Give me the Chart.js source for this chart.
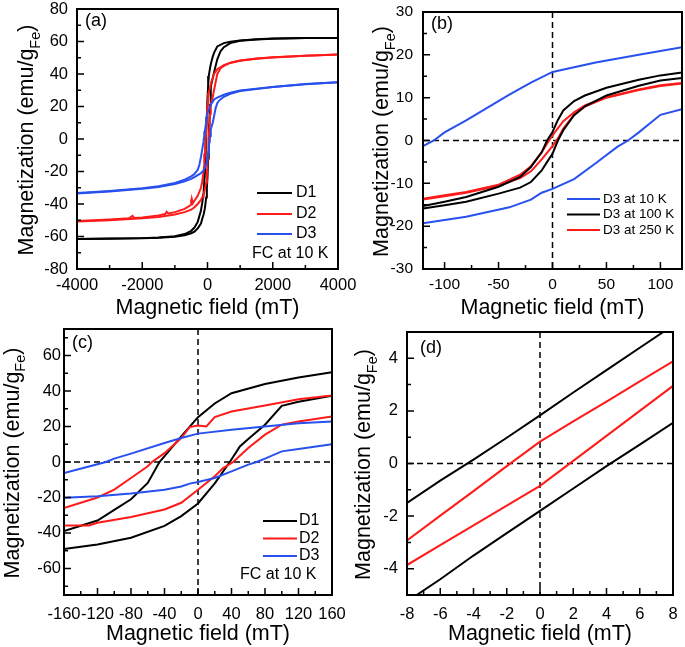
<!DOCTYPE html>
<html>
<head>
<meta charset="utf-8">
<script src="https://cdn.jsdelivr.net/npm/chart.js@4.4.0/dist/chart.umd.min.js"></script>
<style>
  html, body { margin: 0; background: #fff; }
  #wrap { position: relative; width: 685px; height: 647px; }
  #wrap canvas { position: absolute; left: 0; top: 0; }
</style>
</head>
<body>
<div id="wrap">
  <canvas id="chartA" width="685" height="647"></canvas>
  <canvas id="chartB" width="685" height="647"></canvas>
  <canvas id="chartC" width="685" height="647"></canvas>
  <canvas id="chartD" width="685" height="647"></canvas>
</div>
<script>
// ── hysteresis loops at 10 K, [field mT, magnetization emu/gFe] ──
// *_DOWN = field sweeping from +max to -max, *_UP = back again
const D1_DOWN = [[4000,62.2],[3000,62.1],[2000,61.8],[1500,61.4],[1000,60.6],[700,59.8],[500,59],[300,57],
  [200,53],[160,50.6],[120,47.6],[80,44],[40,38.8],[20,33],[0,25.3],[-20,14.4],[-46,0],[-60,-11.8],
  [-80,-21],[-100,-27],[-120,-33],[-160,-39],[-200,-44],[-300,-51],[-400,-54.5],[-500,-56.5],
  [-700,-58.5],[-1000,-59.8],[-1500,-60.6],[-2000,-61],[-3000,-61.3],[-4000,-61.5]];
const D1_UP = [[-4000,-61.5],[-3000,-61.4],[-2000,-61.1],[-1500,-60.8],[-1000,-60.2],[-700,-59.2],
  [-500,-58],[-400,-57],[-300,-55],[-200,-52],[-160,-49],[-120,-46.5],[-80,-42.7],[-40,-36],
  [-20,-30.5],[0,-23.4],[20,-12],[38,0],[50,8.8],[60,13],[80,21],[100,31.7],[120,34],[160,37.3],
  [200,41],[300,49],[400,54],[500,56.5],[700,59],[1000,60.4],[1500,61.3],[2000,61.7],[3000,62.1],[4000,62.2]];

const D2_DOWN = [[4000,52],[3000,51.3],[2000,50.3],[1500,49.5],[1000,48.3],[700,47],[500,45.5],[300,43],
  [200,40],[160,37.5],[120,35.4],[80,31.9],[40,28.5],[20,25.3],[10,20],[0,20.6],[-10,19.7],[-20,13.5],
  [-40,5],[-55,0],[-60,-2.4],[-80,-9],[-100,-15.6],[-120,-20],[-160,-26],[-200,-30],[-300,-35],
  [-400,-38],[-450,-39.5],[-480,-37],[-500,-40.5],[-700,-43],[-1000,-45],[-1200,-45.8],[-1250,-44.8],
  [-1300,-46.2],[-1500,-47],[-2000,-48.3],[-2250,-48.6],[-2300,-47.3],[-2400,-48.8],[-3000,-49.6],[-4000,-50.5]];
const D2_UP = [[-4000,-50.8],[-3000,-50],[-2000,-48.8],[-1500,-48],[-1000,-46.5],[-700,-45],[-500,-43.5],
  [-400,-42],[-300,-40],[-200,-37.5],[-160,-35.8],[-130,-35.8],[-120,-34.3],[-80,-31],[-40,-26.8],
  [-20,-23],[0,-15.6],[20,-8],[30,-3.4],[42,0],[60,7.9],[80,15.4],[100,21],[120,22.9],[160,25.7],
  [200,30],[250,35],[300,40],[400,43.5],[500,45],[700,46.8],[1000,48.2],[1500,49.4],[2000,50.2],
  [3000,51.2],[4000,52]];

const D3_DOWN = [[4000,35],[3000,33.8],[2000,32],[1500,31],[1000,29.8],[700,28.5],[500,27.2],[300,25.5],
  [200,24.3],[160,22.9],[120,21.8],[80,20],[40,18.2],[0,16],[-20,13.5],[-40,10.7],[-80,4.7],
  [-100,1.9],[-110,0],[-120,-1.3],[-160,-6.2],[-200,-11],[-250,-16],[-300,-19],[-400,-21.5],
  [-500,-23],[-700,-25],[-1000,-27],[-1500,-29],[-2000,-30.3],[-3000,-32],[-4000,-33.3]];
const D3_UP = [[-4000,-33.5],[-3000,-32.3],[-2000,-30.6],[-1500,-29.5],[-1000,-27.7],[-700,-26],
  [-500,-24.5],[-400,-23.5],[-300,-22.2],[-200,-21],[-160,-20.2],[-120,-19.3],[-80,-17.8],
  [-40,-15.6],[-20,-13.8],[-10,-12.2],[0,-11.3],[20,-9],[40,-5.3],[60,-1.5],[70,0],[80,1.9],
  [100,6],[120,7.3],[160,10],[200,14],[250,19],[300,22],[350,23.5],[500,26],[700,27.8],
  [1000,29.5],[1500,30.8],[2000,32],[3000,33.7],[4000,35]];

// ── D3 at higher temperatures (panel b) ──
const D3_100K_DOWN = [[120,15.9],[100,15.2],[80,14.2],[50,12.3],[30,10.5],[20,9.2],[10,7],[5,4.8],[0,2],
  [-5,0],[-10,-2.7],[-20,-6.2],[-30,-8.5],[-50,-10.8],[-80,-13.2],[-100,-14.3],[-120,-15.3]];
const D3_100K_UP = [[-120,-15.9],[-100,-15.1],[-80,-14.3],[-50,-12.4],[-30,-11],[-20,-9.7],[-10,-7],
  [-5,-5],[0,-3.1],[5,0],[10,2.4],[20,5.9],[30,8],[50,10.5],[80,12.8],[100,14],[120,14.6]];
const D3_250K_DOWN = [[120,13.4],[100,12.9],[80,11.9],[50,10.1],[30,8.2],[20,6.6],[10,4.5],[0,1.2],
  [-5,-0.7],[-10,-2.8],[-20,-6],[-30,-8],[-50,-10.3],[-80,-12],[-100,-12.8],[-120,-13.6]];
const D3_250K_UP = [[-120,-13.8],[-100,-13],[-80,-12.2],[-50,-10.6],[-30,-8.8],[-20,-7.2],[-10,-4.4],
  [0,-1.3],[5,0.5],[10,2.8],[20,6],[30,7.9],[50,10],[80,11.8],[100,12.7],[120,13.3]];

// ── low-field detail (panel d) ──
const DD_BLACK_DOWN = [[8,5.25],[6,4.4],[4,3.55],[2,2.7],[0,1.83],[-2,0.98],[-4,0.15],[-6,-0.65],[-8,-1.5]];
const DD_BLACK_UP   = [[-8,-5.25],[-6,-4.4],[-4,-3.5],[-2,-2.65],[0,-1.8],[2,-0.95],[4,-0.1],[6,0.72],[8,1.55]];
const DD_RED_DOWN   = [[8,3.88],[6,3.12],[4,2.35],[2,1.6],[0,0.83],[-2,-0.1],[-4,-1.05],[-6,-1.98],[-8,-2.93]];
const DD_RED_UP     = [[-8,-3.86],[-6,-3.1],[-4,-2.35],[-2,-1.6],[0,-0.85],[2,0.1],[4,1.05],[6,2.0],[8,2.95]];

// ── tick labels ──
const A_XTICKS = [-4000, -2000, 0, 2000, 4000];
const A_YTICKS = [-80, -60, -40, -20, 0, 20, 40, 60, 80];
const B_XTICKS = [-100, -50, 0, 50, 100];
const B_YTICKS = [-30, -20, -10, 0, 10, 20, 30];
const C_XTICKS = [-160, -120, -80, -40, 0, 40, 80, 120, 160];
const C_YTICKS = [-60, -40, -20, 0, 20, 40, 60];
const D_XTICKS = [-8, -6, -4, -2, 0, 2, 4, 6, 8];
const D_YTICKS = [-4, -2, 0, 2, 4];

const LABELS_ABC = ['D1', 'D2', 'D3'];
const LABELS_B   = ['D3 at 10 K', 'D3 at 100 K', 'D3 at 250 K'];

const FONT  = "'Liberation Sans', Arial, Helvetica, sans-serif";
const BLACK = '#000000';
const RED   = '#ff1a1a';
const BLUE  = '#2850ee';

const toXY = pairs => pairs.map(p => ({ x: p[0], y: p[1] }));

function branch(pairs, color) {
    return {
        data: toXY(pairs),
        borderColor: color,
        backgroundColor: color,
        borderWidth: 2,
        pointRadius: 0,
        showLine: true,
        tension: 0,
        fill: false
    };
}

function stepsBetween(min, max, step) {
    const out = [];
    for (let v = Math.ceil(min / step) * step; v <= max + 1e-9; v += step) out.push(v);
    return out;
}

function drawYTitle(ctx, xBase, yCenter) {
    const f1 = '21.5px ' + FONT, f2 = '14.5px ' + FONT;
    ctx.save();
    ctx.font = f1;
    const w1 = ctx.measureText('Magnetization (emu/g').width;
    const w3 = ctx.measureText(')').width;
    ctx.font = f2;
    const w2 = ctx.measureText('Fe').width;
    ctx.translate(xBase, yCenter);
    ctx.rotate(-Math.PI / 2);
    ctx.fillStyle = '#000';
    ctx.textAlign = 'left';
    ctx.textBaseline = 'alphabetic';
    let x = -(w1 + w2 + w3) / 2;
    ctx.font = f1; ctx.fillText('Magnetization (emu/g', x, 0); x += w1;
    ctx.font = f2; ctx.fillText('Fe', x, 6.5); x += w2;
    ctx.font = f1; ctx.fillText(')', x, 0);
    ctx.restore();
}

// frame, inward ticks, dashed zero lines, titles and the in-plot legend
const panelDecor = {
    id: 'panelDecor',
    beforeDatasetsDraw(chart, args, o) {
        if (!o.zero) return;
        const { ctx, chartArea: a, scales: { x, y } } = chart;
        const px = x.getPixelForValue(0), py = y.getPixelForValue(0);
        ctx.save();
        ctx.strokeStyle = '#000';
        ctx.lineWidth = 1.5;
        ctx.setLineDash([6, 4]);
        ctx.beginPath();
        ctx.moveTo(px, a.top); ctx.lineTo(px, a.bottom);
        ctx.moveTo(a.left, py); ctx.lineTo(a.right, py);
        ctx.stroke();
        ctx.restore();
    },
    afterDatasetsDraw(chart, args, o) {
        const { ctx, chartArea: a, scales: { x, y } } = chart;
        ctx.save();
        ctx.strokeStyle = '#000';
        ctx.lineWidth = 1.5;
        ctx.beginPath();
        stepsBetween(x.min, x.max, o.xMinor).forEach(v => {
            const p = x.getPixelForValue(v);
            const len = o.xTicks.includes(v) ? 7 : 4;
            ctx.moveTo(p, a.bottom); ctx.lineTo(p, a.bottom - len);
        });
        stepsBetween(y.min, y.max, o.yMinor).forEach(v => {
            const p = y.getPixelForValue(v);
            const len = o.yTicks.includes(v) ? 7 : 4;
            ctx.moveTo(a.left, p); ctx.lineTo(a.left + len, p);
        });
        ctx.stroke();
        ctx.lineWidth = 2;
        ctx.strokeRect(a.left, a.top, a.right - a.left, a.bottom - a.top);

        // panel letter
        ctx.fillStyle = '#000';
        ctx.textBaseline = 'middle';
        ctx.textAlign = 'left';
        ctx.font = '18px ' + FONT;
        ctx.fillText(o.tag, o.tagPos[0], o.tagPos[1]);

        // legend
        const lg = o.legend;
        ctx.font = lg.size + 'px ' + FONT;
        lg.items.forEach((it, i) => {
            const ly = lg.rows[i];
            ctx.strokeStyle = it.color;
            ctx.lineWidth = 2;
            ctx.beginPath();
            ctx.moveTo(lg.x0, ly); ctx.lineTo(lg.x1, ly);
            ctx.stroke();
            ctx.fillText(it.text, lg.tx, ly);
        });
        if (lg.note) ctx.fillText(lg.note, lg.noteX, lg.noteY);

        // axis titles
        ctx.textAlign = 'center';
        ctx.textBaseline = 'alphabetic';
        ctx.font = '21.5px ' + FONT;
        ctx.fillText('Magnetic field (mT)', (a.left + a.right) / 2, a.bottom + 44.5);
        drawYTitle(ctx, o.yTitleX, (a.top + a.bottom) / 2 + 1);
        ctx.restore();
    }
};

const Y_W = 50, X_H = 40;

function makePanel(p) {
    const el = document.getElementById(p.id);
    const tickFont = { family: FONT, size: p.tickSize };
    new Chart(el, {
        type: 'scatter',
        data: { datasets: p.datasets },
        plugins: [panelDecor],
        options: {
            responsive: false,
            animation: false,
            events: [],
            layout: {
                padding: {
                    left: p.box[0] - Y_W,
                    top: p.box[1],
                    right: 685 - p.box[2],
                    bottom: 647 - p.box[3] - X_H
                }
            },
            plugins: {
                legend: { display: false },
                tooltip: { enabled: false },
                panelDecor: p.decor
            },
            scales: {
                x: {
                    type: 'linear',
                    min: p.xRange[0], max: p.xRange[1],
                    grid: { display: false, drawTicks: false },
                    border: { display: false },
                    ticks: {
                        font: tickFont, color: '#000', padding: p.xPad,
                        maxRotation: 0, autoSkip: false, includeBounds: false,
                        callback: v => String(v)
                    },
                    afterBuildTicks: s => { s.ticks = p.decor.xTicks.map(v => ({ value: v })); },
                    afterFit: s => { s.height = X_H; s.paddingLeft = 0; s.paddingRight = 0; }
                },
                y: {
                    type: 'linear',
                    min: p.yRange[0], max: p.yRange[1],
                    grid: { display: false, drawTicks: false },
                    border: { display: false },
                    ticks: {
                        font: tickFont, color: '#000', padding: p.yPad,
                        autoSkip: false, includeBounds: false,
                        callback: v => String(v)
                    },
                    afterBuildTicks: s => { s.ticks = p.decor.yTicks.map(v => ({ value: v })); },
                    afterFit: s => { s.width = Y_W; s.paddingTop = 0; s.paddingBottom = 0; }
                }
            }
        }
    });
}

// ─── (a) full loops ───────────────────────────────────────────────
makePanel({
    id: 'chartA', box: [77, 9, 338, 269], xRange: [-4000, 4000], yRange: [-80, 80],
    tickSize: 16.5, xPad: 7, yPad: 9,
    datasets: [
        branch(D3_DOWN, BLUE), branch(D3_UP, BLUE),
        branch(D2_DOWN, RED), branch(D2_UP, RED),
        branch(D1_DOWN, BLACK), branch(D1_UP, BLACK)
    ],
    decor: {
        xTicks: A_XTICKS, yTicks: A_YTICKS, xMinor: 1000, yMinor: 10, zero: false,
        tag: '(a)', tagPos: [85, 21], yTitleX: 33,
        legend: {
            size: 16, x0: 257, x1: 292, tx: 296, rows: [193, 214, 234],
            items: [{ text: LABELS_ABC[0], color: BLACK }, { text: LABELS_ABC[1], color: RED }, { text: LABELS_ABC[2], color: BLUE }],
            note: 'FC at 10 K', noteX: 252, noteY: 254
        }
    }
});

// ─── (b) D3 at three temperatures ────────────────────────────────
makePanel({
    id: 'chartB', box: [423, 12, 682, 269], xRange: [-120, 120], yRange: [-30, 30],
    tickSize: 15.5, xPad: 6, yPad: 10,
    datasets: [
        branch(D3_DOWN, BLUE), branch(D3_UP, BLUE),
        branch(D3_100K_DOWN, BLACK), branch(D3_100K_UP, BLACK),
        branch(D3_250K_DOWN, RED), branch(D3_250K_UP, RED)
    ],
    decor: {
        xTicks: B_XTICKS, yTicks: B_YTICKS, xMinor: 25, yMinor: 5, zero: true,
        tag: '(b)', tagPos: [431, 24], yTitleX: 388,
        legend: {
            size: 13.5, x0: 567, x1: 600, tx: 603, rows: [199, 214.5, 230],
            items: [{ text: LABELS_B[0], color: BLUE }, { text: LABELS_B[1], color: BLACK }, { text: LABELS_B[2], color: RED }]
        }
    }
});

// ─── (c) zoom on the loops ───────────────────────────────────────
makePanel({
    id: 'chartC', box: [64, 329, 332, 595], xRange: [-160, 160], yRange: [-75, 75],
    tickSize: 16.5, xPad: 10, yPad: 3,
    datasets: [
        branch(D3_DOWN, BLUE), branch(D3_UP, BLUE),
        branch(D2_DOWN, RED), branch(D2_UP, RED),
        branch(D1_DOWN, BLACK), branch(D1_UP, BLACK)
    ],
    decor: {
        xTicks: C_XTICKS, yTicks: C_YTICKS, xMinor: 20, yMinor: 10, zero: true,
        tag: '(c)', tagPos: [72, 343], yTitleX: 18.5,
        legend: {
            size: 16, x0: 263, x1: 297, tx: 299, rows: [521, 538.5, 556],
            items: [{ text: LABELS_ABC[0], color: BLACK }, { text: LABELS_ABC[1], color: RED }, { text: LABELS_ABC[2], color: BLUE }],
            note: 'FC at 10 K', noteX: 240, noteY: 575
        }
    }
});

// ─── (d) low-field detail ────────────────────────────────────────
makePanel({
    id: 'chartD', box: [407, 332, 673, 595], xRange: [-8, 8], yRange: [-5, 5],
    tickSize: 16.5, xPad: 10, yPad: 9,
    datasets: [
        branch(DD_BLACK_DOWN, BLACK), branch(DD_BLACK_UP, BLACK),
        branch(DD_RED_DOWN, RED), branch(DD_RED_UP, RED)
    ],
    decor: {
        xTicks: D_XTICKS, yTicks: D_YTICKS, xMinor: 1, yMinor: 1, zero: true,
        tag: '(d)', tagPos: [420, 348], yTitleX: 370,
        legend: { size: 16, items: [], rows: [] }
    }
});
</script>
</body>
</html>
